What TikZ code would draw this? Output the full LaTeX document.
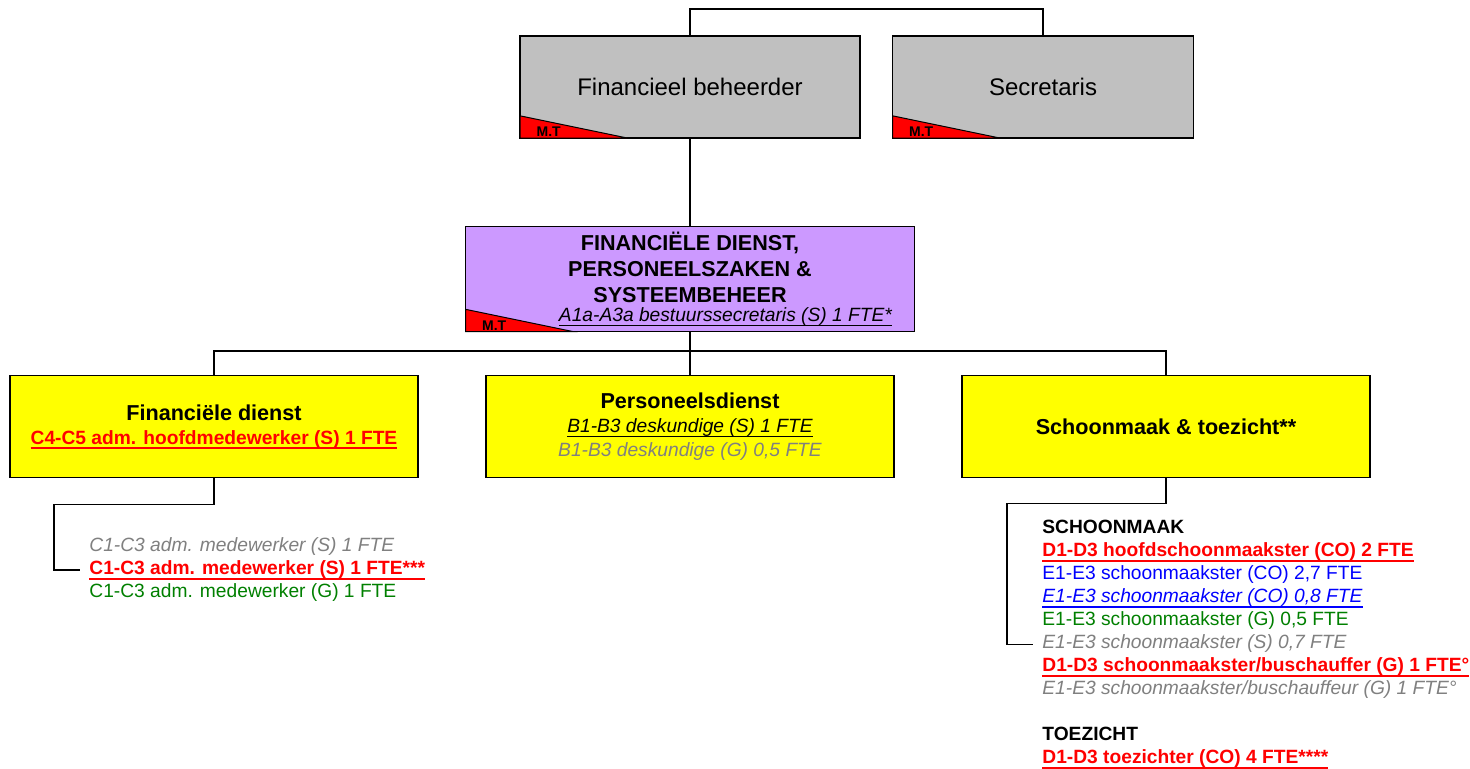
\documentclass[tikz,border=0pt]{standalone}
\usepackage{fontspec}
\setmainfont{Liberation Sans}
\usetikzlibrary{calc, positioning}
\definecolor{boxgrey}{RGB}{192,192,192}
\definecolor{lilac}{RGB}{204,153,255}
\definecolor{boxyellow}{RGB}{255,255,0}
\definecolor{txtgrey}{RGB}{128,128,128}
\definecolor{txtgreen}{RGB}{0,128,0}
\definecolor{txtblue}{RGB}{0,0,255}

% underline close to the baseline, in the current colour
\newcommand{\ulin}[1]{\setbox0\hbox{#1}\rlap{\vrule width\wd0 height -1.7pt depth 2.3pt}\box0}

% red M.T corner in the lower left of a box
\newcommand{\mtflag}[1]{%
  \filldraw[fill=red, draw=black, line width=0.5pt] ($(#1.south west)+(0.4pt,0.4pt)$) -- ++(0,11.1pt) -- ($(#1.south west)+(54pt,0.4pt)$) -- cycle;
  \node[font=\fontsize{7}{8}\selectfont\bfseries, anchor=base west, inner sep=0pt] at ($(#1.south west)+(8.5pt,1pt)$) {M.T};}

\begin{document}
\begin{tikzpicture}[node distance=2cm, on grid,
    link/.style={line width=0.8pt},
    topbox/.style={draw, line width=0.8pt, fill=boxgrey, minimum height=51pt, inner sep=0pt, font=\fontsize{12}{14}\selectfont},
    headbox/.style={draw, line width=0.8pt, fill=lilac, minimum width=224.5pt, minimum height=52.5pt, inner sep=0pt},
    unitbox/.style={draw, line width=0.8pt, fill=boxyellow, minimum width=204pt, minimum height=51pt, inner sep=0pt, align=center, font=\fontsize{9.6}{12}\selectfont},
    staff/.style={anchor=west, align=left, inner sep=0pt, font=\fontsize{9.6}{11.5}\selectfont}]

    \fill[white] (0,0) rectangle (735pt,-384pt);
    \useasboundingbox (0,0) rectangle (735pt,-384pt);

    \node[topbox, minimum width=170pt] (fb) at (345pt,-43.5pt) {Financieel beheerder};
    \node[topbox, minimum width=150.5pt, right=176.5pt of fb] (secr) {Secretaris};
    \node[headbox, below=96pt of fb] (fpd) {};
    \node[align=center, inner sep=0pt, font=\fontsize{10.8}{13}\selectfont\bfseries] (fpdtitle) at ($(fpd.center)+(0,5.75pt)$) {FINANCIËLE DIENST,\\PERSONEELSZAKEN \&\\SYSTEEMBEHEER};
    \node[staff, anchor=east] (fpdsec) at ($(fpd.east)+(-11.5pt,-18.75pt)$) {\ulin{\itshape A1a-A3a bestuurssecretaris (S) 1 FTE*}};

    \node[unitbox, below=73.75pt of fpd] (pers) {{\fontsize{10.8}{12}\selectfont\bfseries Personeelsdienst}\\
      \ulin{\itshape B1-B3 deskundige (S) 1 FTE}\\
      \textcolor{txtgrey}{\itshape B1-B3 deskundige (G) 0,5 FTE}};
    \node[unitbox, left=238pt of pers] (fin) {{\fontsize{10.8}{12}\selectfont\bfseries Financiële dienst}\\
      \textcolor{red}{\ulin{\bfseries C4-C5 adm. hoofdmedewerker (S) 1 FTE}}};
    \node[unitbox, right=238pt of pers] (clean) {{\fontsize{10.8}{12}\selectfont\bfseries Schoonmaak \& toezicht**}};

    \mtflag{fb}
    \mtflag{secr}
    \mtflag{fpd}

    \node[staff] (finstaff) at (44.5pt,-285pt) {\textcolor{txtgrey}{\itshape C1-C3 adm. medewerker (S) 1 FTE}\\
      \textcolor{red}{\ulin{\bfseries C1-C3 adm. medewerker (S) 1 FTE***}}\\
      \textcolor{txtgreen}{C1-C3 adm. medewerker (G) 1 FTE}};
    \node[staff] (cleanstaff) at (521pt,-322.25pt) {\textbf{SCHOONMAAK}\\
      \textcolor{red}{\ulin{\bfseries D1-D3 hoofdschoonmaakster (CO) 2 FTE}}\\
      \textcolor{txtblue}{E1-E3 schoonmaakster (CO) 2,7 FTE}\\
      \textcolor{txtblue}{\ulin{\itshape E1-E3 schoonmaakster (CO) 0,8 FTE}}\\
      \textcolor{txtgreen}{E1-E3 schoonmaakster (G) 0,5 FTE}\\
      \textcolor{txtgrey}{\itshape E1-E3 schoonmaakster (S) 0,7 FTE}\\
      \textcolor{red}{\ulin{\bfseries D1-D3 schoonmaakster/buschauffer (G) 1 FTE°}}\\
      \textcolor{txtgrey}{\itshape E1-E3 schoonmaakster/buschauffeur (G) 1 FTE°}\\[11.5pt]
      \textbf{TOEZICHT}\\
      \textcolor{red}{\ulin{\bfseries D1-D3 toezichter (CO) 4 FTE****}}};

    % connectors
    \draw[link] (fb.north) |- ($(secr.north)+(0,13pt)$) -- (secr.north);
    \draw[link] (fb.south) -- (fpd.north);
    \draw[link] (fpd.south) -- ++(0,-9.25pt) coordinate (bus);
    \draw[link] (fin.north) |- (bus) -| (clean.north);
    \draw[link] (bus) -- (pers.north);
    \draw[link] (fin.south) -- ++(0,-13pt) -| ($(finstaff.west)+(-17.5pt,0)$) -- ($(finstaff.west)+(-4.5pt,0)$);
    \draw[link] (clean.south) -- ++(0,-12.5pt) -| ($(cleanstaff.west)+(-17.5pt,0)$) -- ($(cleanstaff.west)+(-4.5pt,0)$);
\end{tikzpicture}
\end{document}
